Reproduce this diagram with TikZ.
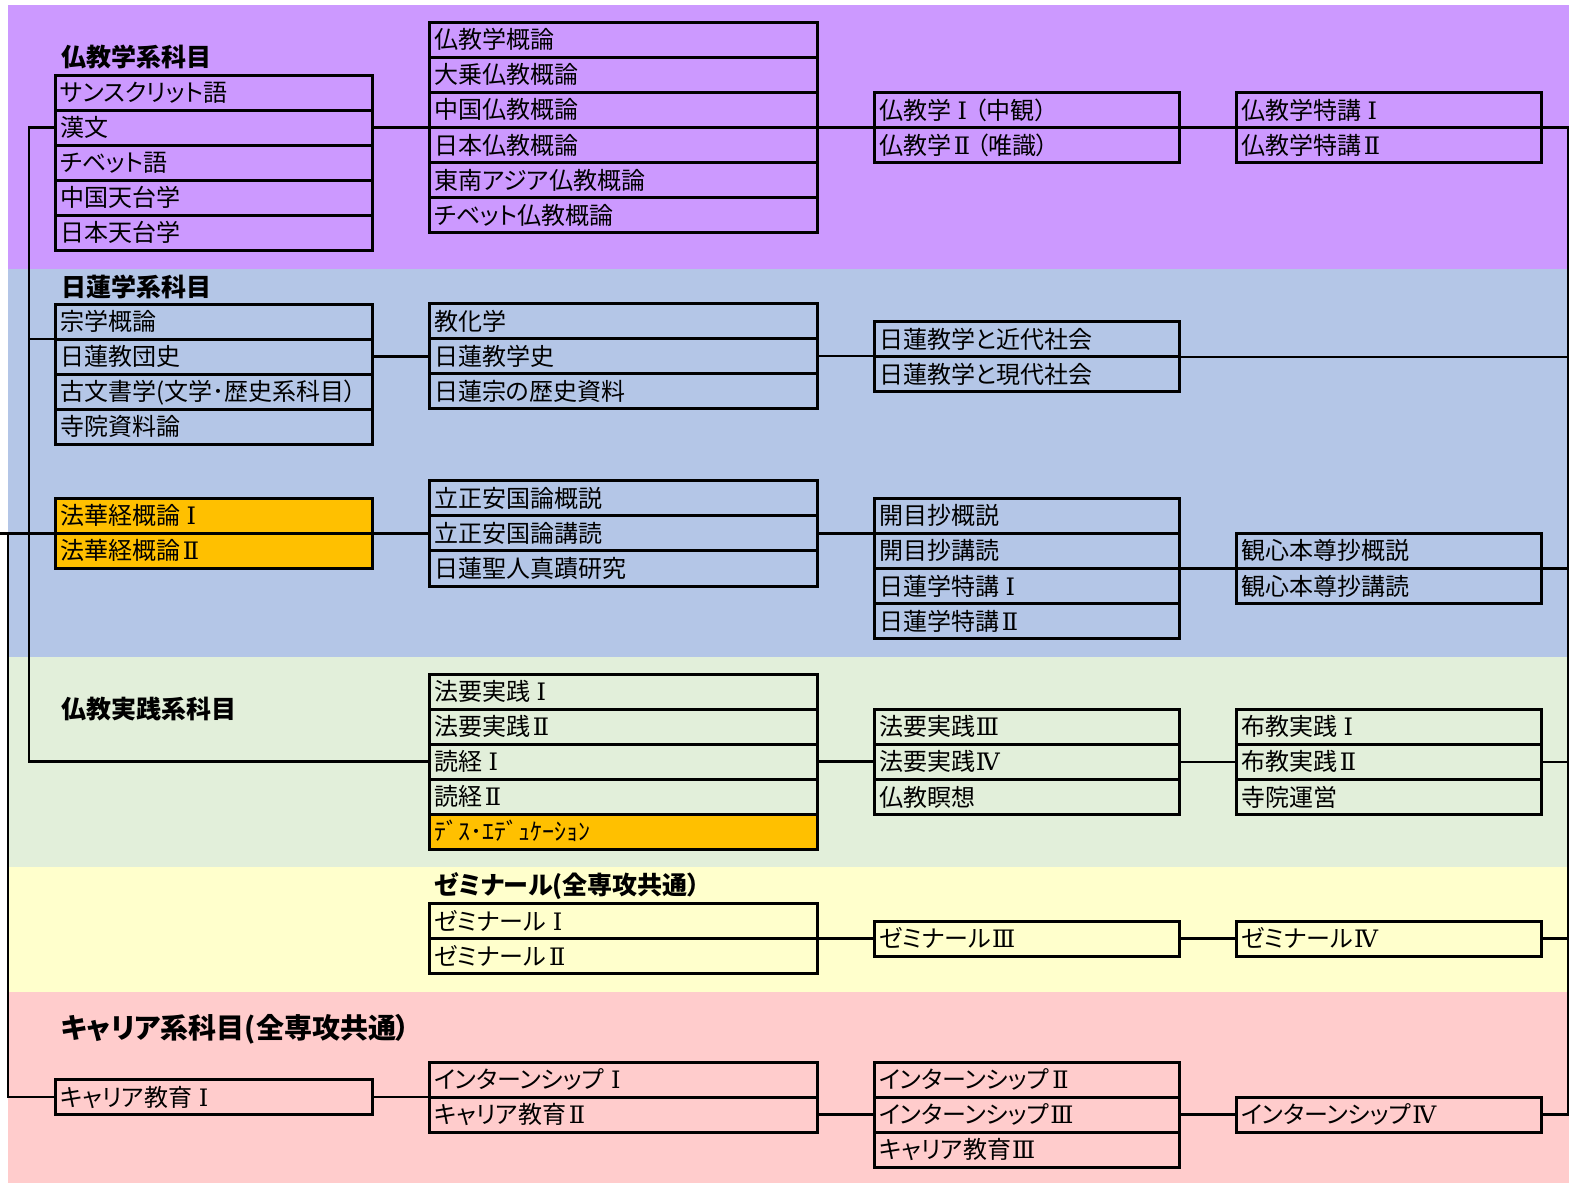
\documentclass[tikz,border=0pt]{standalone}
\usepackage{fontspec}
\setmainfont{Noto Sans CJK JP}[RawFeature=+palt]
\newfontfamily\rnum{DejaVu Serif}
\newcommand{\RI}{\hspace{0.28em}{\rnum Ⅰ}\hspace{0.12em}}
\newcommand{\RII}{\hspace{0.12em}{\rnum Ⅱ}\hspace{0.06em}}
\newcommand{\RIII}{\hspace{0.04em}{\rnum Ⅲ}}
\newcommand{\RIV}{\hspace{0.04em}{\rnum Ⅳ}}
\definecolor{pur}{HTML}{CC99FF}
\definecolor{blu}{HTML}{B4C6E7}
\definecolor{grn}{HTML}{E2EFDA}
\definecolor{yel}{HTML}{FFFFCC}
\definecolor{pnk}{HTML}{FFCCCC}
\definecolor{org}{HTML}{FFC000}
\begin{document}
\begin{tikzpicture}[x=1pt,y=-1pt,
  cell/.style={draw, line width=3pt, anchor=north west, minimum height=35.1pt,
    outer sep=0pt, inner xsep=5pt, inner ysep=0pt, text height=21pt, text depth=3pt,
    align=left, font=\fontsize{24}{24}\selectfont},
  cA/.style={cell, text width=307pt},
  cB/.style={cell, text width=378pt},
  cC/.style={cell, text width=295pt},
  conn/.style={line width=2.6pt},
  head/.style={anchor=west, inner sep=0pt, text height=21pt, text depth=3pt,
    font=\bfseries\fontsize{25}{25}\selectfont},
]
\useasboundingbox (0,0) rectangle (1573,1184);
\fill[white] (0,0) rectangle (1573,1184);
% bands
\fill[pur] (8,5) rectangle (1569,268.5);
\fill[blu] (8,268.5) rectangle (1569,656.5);
\fill[grn] (8,656.5) rectangle (1569,867);
\fill[yel] (8,867) rectangle (1569,992);
\fill[pnk] (8,992) rectangle (1569,1183);

% headings
\node[head] (h-bk) at (61,57.5) {仏教学系科目};
\node[head] (h-nc) at (61,287) {日蓮学系科目};
\node[head] (h-js) at (61,709) {仏教実践系科目};
\node[head] (h-zm) at (434,885) {ゼミナール(全専攻共通）};
\node[head, font=\bfseries\fontsize{28}{28}\selectfont, text height=24.5pt, text depth=3.5pt] (h-cr) at (61,1028) {キャリア系科目(全専攻共通）};

% ---- purple
\node[cA, fill=pur] (a1) at (55,75) {サンスクリット語};
\node[cA, fill=pur] (a2) at (a1.south west) {漢文};
\node[cA, fill=pur] (a3) at (a2.south west) {チベット語};
\node[cA, fill=pur] (a4) at (a3.south west) {中国天台学};
\node[cA, fill=pur] (a5) at (a4.south west) {日本天台学};

\node[cB, fill=pur] (b1) at (429,22.2) {仏教学概論};
\node[cB, fill=pur] (b2) at (b1.south west) {大乗仏教概論};
\node[cB, fill=pur] (b3) at (b2.south west) {中国仏教概論};
\node[cB, fill=pur] (b4) at (b3.south west) {日本仏教概論};
\node[cB, fill=pur] (b5) at (b4.south west) {東南アジア仏教概論};
\node[cB, fill=pur] (b6) at (b5.south west) {チベット仏教概論};

\node[cC, fill=pur] (c1) at (874,92.6) {仏教学\RI\hspace{0.2em}（中観）};
\node[cC, fill=pur] (c2) at (c1.south west) {仏教学\RII\hspace{0.2em}（唯識）};

\node[cC, fill=pur] (d1) at (1236,92.6) {仏教学特講\RI};
\node[cC, fill=pur] (d2) at (d1.south west) {仏教学特講\RII};

% ---- blue
\node[cA, fill=blu] (e1) at (55,304) {宗学概論};
\node[cA, fill=blu] (e2) at (e1.south west) {日蓮教団史};
\node[cA, fill=blu] (e3) at (e2.south west) {古文書学(文学･歴史系科目）};
\node[cA, fill=blu] (e4) at (e3.south west) {寺院資料論};

\node[cB, fill=blu] (f1) at (429,303.5) {教化学};
\node[cB, fill=blu] (f2) at (f1.south west) {日蓮教学史};
\node[cB, fill=blu] (f3) at (f2.south west) {日蓮宗の歴史資料};

\node[cC, fill=blu] (g1) at (874,321.7) {日蓮教学と近代社会};
\node[cC, fill=blu] (g2) at (g1.south west) {日蓮教学と現代社会};

\node[cA, fill=org] (h1) at (55,498.3) {法華経概論\RI};
\node[cA, fill=org] (h2) at (h1.south west) {法華経概論\RII};

\node[cB, fill=blu] (i1) at (429,480.7) {立正安国論概説};
\node[cB, fill=blu] (i2) at (i1.south west) {立正安国論講読};
\node[cB, fill=blu] (i3) at (i2.south west) {日蓮聖人真蹟研究};

\node[cC, fill=blu] (j1) at (874,498.3) {開目抄概説};
\node[cC, fill=blu] (j2) at (j1.south west) {開目抄講読};
\node[cC, fill=blu] (j3) at (j2.south west) {日蓮学特講\RI};
\node[cC, fill=blu] (j4) at (j3.south west) {日蓮学特講\RII};

\node[cC, fill=blu] (k1) at (1236,533.4) {観心本尊抄概説};
\node[cC, fill=blu] (k2) at (k1.south west) {観心本尊抄講読};

% ---- green
\node[cB, fill=grn] (l1) at (429,674) {法要実践\RI};
\node[cB, fill=grn] (l2) at (l1.south west) {法要実践\RII};
\node[cB, fill=grn] (l3) at (l2.south west) {読経\RI};
\node[cB, fill=grn] (l4) at (l3.south west) {読経\RII};
\node[cB, fill=org] (l5) at (l4.south west) {ﾃﾞｽ･ｴﾃﾞｭｹｰｼｮﾝ};

\node[cC, fill=grn] (m1) at (874,709.3) {法要実践\RIII};
\node[cC, fill=grn] (m2) at (m1.south west) {法要実践\RIV};
\node[cC, fill=grn] (m3) at (m2.south west) {仏教瞑想};

\node[cC, fill=grn] (n1) at (1236,709.3) {布教実践\RI};
\node[cC, fill=grn] (n2) at (n1.south west) {布教実践\RII};
\node[cC, fill=grn] (n3) at (n2.south west) {寺院運営};

% ---- yellow
\node[cB, fill=yel] (o1) at (429,903.5) {ゼミナール\RI};
\node[cB, fill=yel] (o2) at (o1.south west) {ゼミナール\RII};
\node[cC, fill=yel] (p1) at (874,921) {ゼミナール\RIII};
\node[cC, fill=yel] (q1) at (1236,921) {ゼミナール\RIV};

% ---- pink
\node[cA, fill=pnk] (r1) at (55,1079.5) {キャリア教育\RI};
\node[cB, fill=pnk] (s1) at (429,1062) {インターンシップ\RI};
\node[cB, fill=pnk] (s2) at (s1.south west) {キャリア教育\RII};
\node[cC, fill=pnk] (t1) at (874,1062) {インターンシップ\RII};
\node[cC, fill=pnk] (t2) at (t1.south west) {インターンシップ\RIII};
\node[cC, fill=pnk] (t3) at (t2.south west) {キャリア教育\RIII};
\node[cC, fill=pnk] (u1) at (1236,1097.1) {インターンシップ\RIV};

% ---- connectors
\coordinate (lx) at (29,0);
\coordinate (lx2) at (8,0);
\coordinate (lx0) at (0,0);
\coordinate (rx) at (1568,0);

% left spine
\draw[conn] (a2.west) -- (a2.west -| lx) -- (l3.west -| lx) -- (l3.west);
\draw[conn] (e1.south west -| lx) -- (e1.south west);
% outer left spine
\draw[conn] (h1.south west -| lx0) -- (h1.south west);
\draw[conn] (h1.south west -| lx2) -- (r1.west -| lx2) -- (r1.west);
% right spine
\draw[conn] (d1.south east) -- (d1.south east -| rx) -- (u1.east -| rx) -- (u1.east);
\draw[conn] (g1.south east) -- (g1.south east -| rx);
\draw[conn] (k1.south east) -- (k1.south east -| rx);
\draw[conn] (n2.east) -- (n2.east -| rx);
\draw[conn] (q1.east) -- (q1.east -| rx);

% purple
\draw[conn] (a2.east) -- (a2.east -| b1.west);
\draw[conn] (b3.south east) -- (b3.south east -| c1.west);
\draw[conn] (c1.south east) -- (c1.south east -| d1.west);
% blue upper
\draw[conn] (e2.east) -- (e2.east -| f1.west);
\draw[conn] (f2.east) -- (f2.east -| g1.west);
% blue lower
\draw[conn] (h1.south east) -- (h1.south east -| i1.west);
\draw[conn] (i2.east) -- (i2.east -| j1.west);
\draw[conn] (j2.south east) -- (j2.south east -| k1.west);
% green
\draw[conn] (l3.east) -- (l3.east -| m1.west);
\draw[conn] (m2.east) -- (m2.east -| n1.west);
% yellow
\draw[conn] (o1.south east) -- (o1.south east -| p1.west);
\draw[conn] (p1.east) -- (p1.east -| q1.west);
% pink
\draw[conn] (r1.east) -- (r1.east -| s1.west);
\draw[conn] (s2.east) -- (s2.east -| t1.west);
\draw[conn] (t2.east) -- (t2.east -| u1.west);
\end{tikzpicture}
\end{document}
